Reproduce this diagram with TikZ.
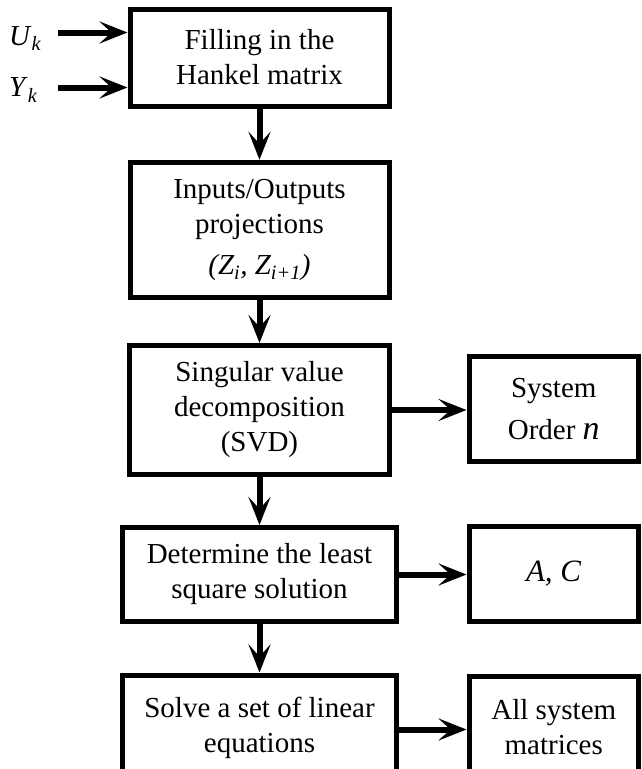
\documentclass[tikz,border=0pt]{standalone}
\usepackage{fontspec}
\setmainfont{Liberation Serif}
\usetikzlibrary{arrows.meta}
\newcommand\boxfont{\fontsize{29}{35}\selectfont}
\tikzset{
  box/.style={draw, line width=5pt, align=center, inner sep=0pt, font=\boxfont},
  flow/.style={line width=6pt, -{Stealth[length=28pt, width=22pt, inset=12pt]}},
}
\begin{document}
\begin{tikzpicture}[x=1pt, y=-1pt]
  \useasboundingbox (0,0) rectangle (641,769);
  \clip (0,0) rectangle (641,769);

  % main processing column
  \node[box, minimum width=259pt, minimum height=97pt] (fill) at (259.5,57.5)
    {Filling in the\\Hankel matrix};
  \node[box, minimum width=259pt, minimum height=135.5pt] (proj) at (259.5,230)
    {Inputs/Outputs\\projections\\[6pt]\textit{(Z\textsubscript{i}, Z\textsubscript{i+1})}};
  \node[box, minimum width=260pt, minimum height=129pt] (svd) at (259.5,410)
    {Singular value\\decomposition\\(SVD)};
  \node[box, minimum width=274.5pt, minimum height=94pt] (lsq) at (259.5,574.5)
    {Determine the least\\square solution};
  \node[box, minimum width=274.5pt, minimum height=105pt] (lin) at (259.5,727.5)
    {Solve a set of linear\\equations};

  % results column
  \node[box, minimum width=169.5pt, minimum height=104.5pt] (order) at (553.75,408.75)
    {System\\[7pt]Order {\fontsize{34}{35}\selectfont\textit{n}}};
  \node[box, minimum width=169.5pt, minimum height=94.5pt] (ac) at (553.75,573.75)
    {\fontsize{31}{35}\selectfont\textit{A, C}};
  \node[box, minimum width=169.5pt, minimum height=103pt] (mats) at (553.75,727.5)
    {All system\\matrices};

  % input signals
  \node[anchor=base west, font=\boxfont, inner sep=0pt] (ulab) at (9,45)
    {\textit{U}\textsubscript{\textit{k}}};
  \node[anchor=base west, font=\boxfont, inner sep=0pt] (ylab) at (9,96.5)
    {\textit{Y}\textsubscript{\textit{k}}};
  \coordinate (uin) at (58,32.5);
  \coordinate (yin) at (58,87.5);
  \draw[flow] (uin) -- (uin -| fill.west);
  \draw[flow] (yin) -- (yin -| fill.west);

  % flow down the column
  \draw[flow] (fill) -- (proj);
  \draw[flow] (proj) -- (svd);
  \draw[flow] (svd) -- (lsq);
  \draw[flow] (lsq) -- (lin);

  % outputs to the right
  \draw[flow] (svd.east) -- (svd.east -| order.west);
  \draw[flow] (lsq.east) -- (lsq.east -| ac.west);
  \draw[flow] ([yshift=-2pt]lin.east) -- ([yshift=-2pt]lin.east -| mats.west);
\end{tikzpicture}
\end{document}
